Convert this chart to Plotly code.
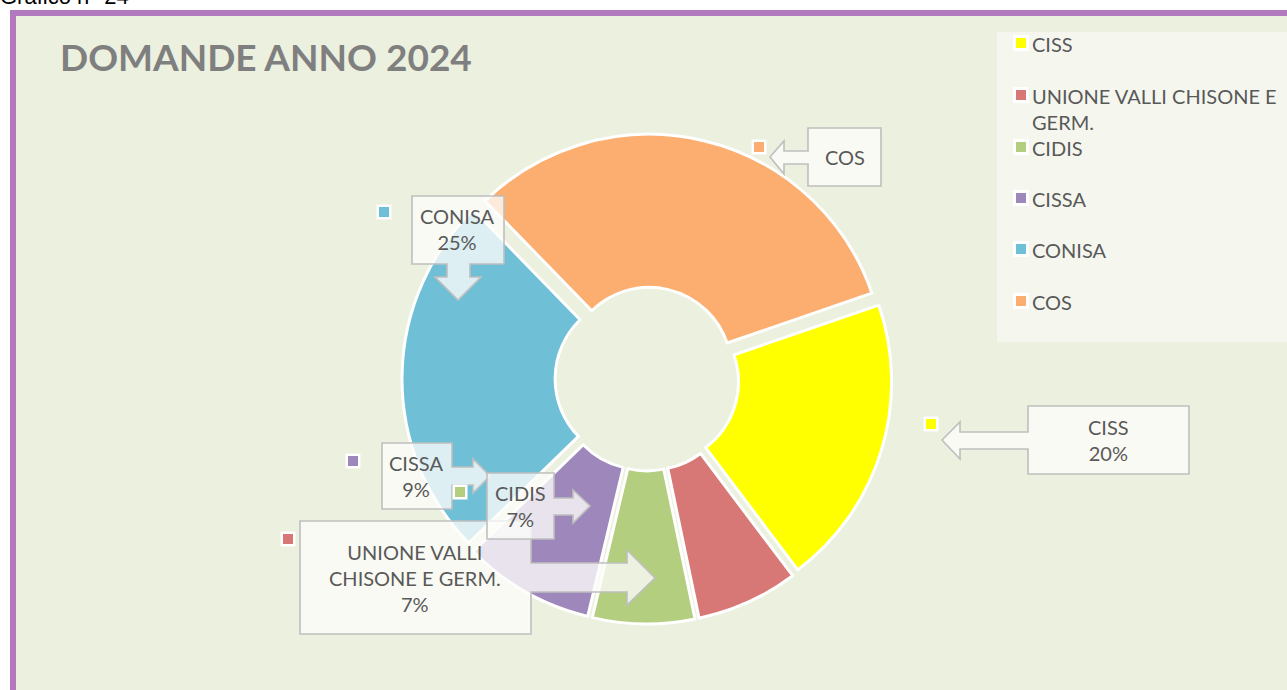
import plotly.graph_objects as go

W, H = 1287, 690

# ---- data ----
labels = ["CISS", "UNIONE VALLI CHISONE E GERM.", "CIDIS", "CISSA", "CONISA", "COS"]
values = [20, 7, 7, 9, 25, 32]
colors = ["#FFFF00", "#D87876", "#B3CE7E", "#9E88BB", "#6FC0D6", "#FBAE70"]
callout_text = {
    "CISS": "CISS<br>20%",
    "UNIONE VALLI CHISONE E GERM.": "UNIONE VALLI<br>CHISONE E GERM.<br>7%",
    "CIDIS": "CIDIS<br>7%",
    "CISSA": "CISSA<br>9%",
    "CONISA": "CONISA<br>25%",
    "COS": "COS",
}
legend_labels = ["CISS", "UNIONE VALLI CHISONE E<br>GERM.", "CIDIS", "CISSA", "CONISA", "COS"]

title_text = "DOMANDE ANNO 2024"
caption_text = "Grafico n° 24"

FONT = "Lato, 'Open Sans', sans-serif"
TXT = "#595959"


def px(x):
    return x / W


def py(y):
    return 1 - y / H


def path(points):
    s = "M " + " L ".join(f"{px(x):.5f},{py(y):.5f}" for x, y in points) + " Z"
    return s


# pie geometry (pixels)
cx, cy, R = 647, 379, 245

fig = go.Figure()
fig.add_trace(go.Pie(
    labels=labels,
    values=values,
    sort=False,
    direction="clockwise",
    rotation=71,
    hole=0.35,
    pull=[0.04] * len(values),
    marker=dict(colors=colors, line=dict(color="white", width=3)),
    textinfo="none",
    showlegend=False,
    domain=dict(x=[px(cx - R), px(cx + R)], y=[py(cy + R), py(cy - R)]),
))

shapes = []
annotations = []

# frame
shapes.append(dict(type="rect", xref="paper", yref="paper", layer="below",
                   x0=px(13), x1=px(W + 20), y0=py(H + 20), y1=py(13),
                   fillcolor="#EBF0DF", line=dict(color="#B279BE", width=6)))

# legend box
shapes.append(dict(type="rect", xref="paper", yref="paper", layer="below",
                   x0=px(997), x1=px(W + 10), y0=py(342), y1=py(32),
                   fillcolor="#F5F7EF", line=dict(width=0)))


def key(xc, yc, color, outer=16, inner=10):
    shapes.append(dict(type="rect", xref="paper", yref="paper",
                       x0=px(xc - outer / 2), x1=px(xc + outer / 2),
                       y0=py(yc + outer / 2), y1=py(yc - outer / 2),
                       fillcolor="white", line=dict(width=0)))
    shapes.append(dict(type="rect", xref="paper", yref="paper",
                       x0=px(xc - inner / 2), x1=px(xc + inner / 2),
                       y0=py(yc + inner / 2), y1=py(yc - inner / 2),
                       fillcolor=color, line=dict(width=0)))


# legend entries
leg_y = [43, 95, 147, 198, 249, 301]
for lab, col, yy in zip(legend_labels, colors, leg_y):
    key(1021, yy, col)
    annotations.append(dict(xref="paper", yref="paper", x=px(1030), y=py(yy - 13),
                            xanchor="left", yanchor="top", align="left",
                            text=lab, showarrow=False,
                            font=dict(family=FONT, size=20, color=TXT)))

# callouts: outline polygons (pixel space), text centre, key position
callouts = {
    "COS": dict(poly=[(808, 128), (881, 128), (881, 186), (808, 186), (808, 164), (784, 164),
                      (784, 174), (770, 157), (784, 141), (784, 151), (808, 151)],
                c=(845, 157), key=(759, 147)),
    "CONISA": dict(poly=[(412, 196), (504, 196), (504, 264), (470, 264), (470, 277), (481, 277),
                         (458, 300), (435, 277), (447, 277), (447, 264), (412, 264)],
                   c=(458, 229), key=(384, 212)),
    "CISS": dict(poly=[(1028, 406), (1189, 406), (1189, 474), (1028, 474), (1028, 449), (960, 449),
                       (960, 459), (942, 440), (960, 422), (960, 432), (1028, 432)],
                 c=(1108, 440), key=(931, 424)),
    "CISSA": dict(poly=[(382, 443), (452, 443), (452, 467), (473, 467), (473, 459), (490, 476),
                        (473, 493), (473, 485), (452, 485), (452, 509), (382, 509)],
                  c=(416, 476), key=(353, 461)),
    "CIDIS": dict(poly=[(487, 473), (554, 473), (554, 498), (573, 498), (573, 490), (590, 506),
                        (573, 523), (573, 515), (554, 515), (554, 539), (487, 539)],
                  c=(520, 506), key=(460, 492)),
    "UNIONE VALLI CHISONE E GERM.": dict(
        poly=[(300, 521), (531, 521), (531, 563), (627, 563), (627, 550), (655, 578),
              (627, 605), (627, 592), (531, 592), (531, 634), (300, 634)],
        c=(415, 578), key=(288, 539)),
}

order = ["COS", "CONISA", "CISS", "CISSA", "UNIONE VALLI CHISONE E GERM.", "CIDIS"]
color_of = dict(zip(labels, colors))
for lab in order:
    co = callouts[lab]
    shapes.append(dict(type="path", xref="paper", yref="paper", path=path(co["poly"]),
                       fillcolor="rgba(252,252,250,0.78)",
                       line=dict(color="#BFBFBF", width=1.6)))
    key(co["key"][0], co["key"][1], color_of[lab], outer=15, inner=10)
    annotations.append(dict(xref="paper", yref="paper", x=px(co["c"][0]), y=py(co["c"][1]),
                            xanchor="center", yanchor="middle", align="center",
                            text=callout_text[lab], showarrow=False,
                            font=dict(family=FONT, size=20, color=TXT)))

# title
annotations.append(dict(xref="paper", yref="paper", x=px(58), y=py(56),
                        xanchor="left", yanchor="middle", text=f"<b>{title_text}</b>",
                        showarrow=False, font=dict(family=FONT, size=37, color="#7F7F7F")))
# caption at the very top (partly cut, as in the reference)
annotations.append(dict(xref="paper", yref="paper", x=px(-2), y=py(-4),
                        xanchor="left", yanchor="middle", text=caption_text,
                        showarrow=False,
                        font=dict(family="'Liberation Sans', Arial, sans-serif", size=22,
                                  color="#000000")))

fig.update_layout(
    width=W, height=H,
    margin=dict(l=0, r=0, t=0, b=0),
    paper_bgcolor="white",
    plot_bgcolor="white",
    shapes=shapes,
    annotations=annotations,
    showlegend=False,
)

fig.write_html("out.html", config={"displayModeBar": False},
               post_script="document.body.style.margin='0px';")
